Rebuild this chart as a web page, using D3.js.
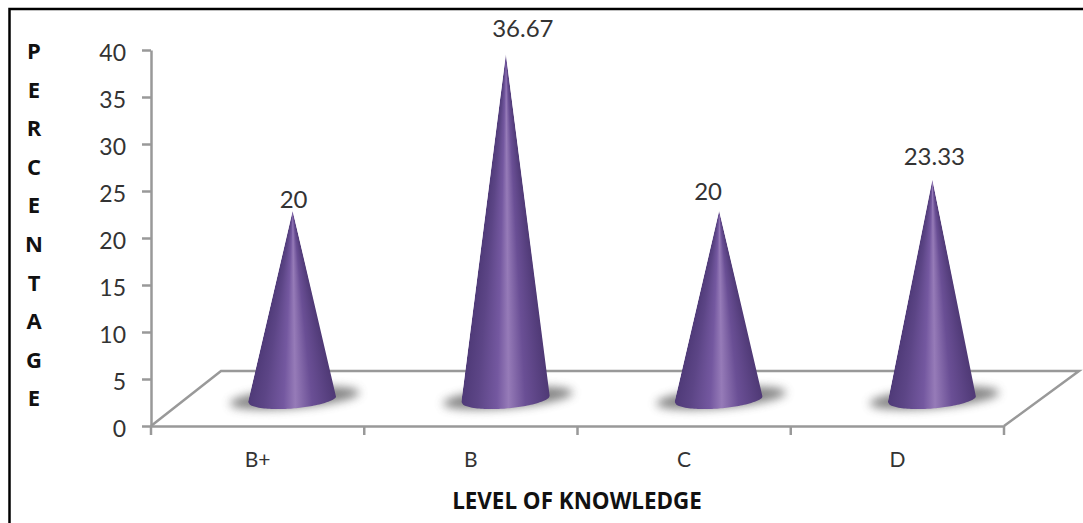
<!DOCTYPE html>
<html>
<head>
<meta charset="utf-8">
<script src="https://cdn.jsdelivr.net/npm/d3@7"></script>
<style>
  html, body { margin: 0; padding: 0; background: #fff; overflow: hidden; }
  text { font-family: Lato, sans-serif; }
</style>
</head>
<body>
<div id="chart"></div>
<script>
const categories = ['B+', 'B', 'C', 'D'];
const percentages = [20, 36.67, 20, 23.33];
const yTicks = [0, 5, 10, 15, 20, 25, 30, 35, 40];
const yTitle = 'PERCENTAGE';
const xTitle = 'LEVEL OF KNOWLEDGE';

const width = 1083, height = 523;
const depthX = 72, depthY = 55;     // fake 3d floor offset
const coneWidth = 89;
const axisColor = '#999';

const svg = d3.select('#chart').append('svg')
    .attr('width', width)
    .attr('height', height);

const defs = svg.append('defs');

defs.append('filter')
    .attr('id', 'blur')
    .attr('x', '-30%').attr('y', '-80%')
    .attr('width', '160%').attr('height', '260%')
    .append('feGaussianBlur')
    .attr('stdDeviation', 5);

const shade = defs.append('linearGradient').attr('id', 'shade');
[[0, '#4f3a78'], [0.18, '#5c4586'], [0.4, '#7458a0'], [0.53, '#967bb8'], [0.72, '#6a4f95'], [0.92, '#563f7e'], [1, '#4f3975']]
    .forEach(s => shade.append('stop').attr('offset', s[0]).attr('stop-color', s[1]));

const x = d3.scaleBand().domain(categories).range([151, 1004]);
const y = d3.scaleLinear().domain([0, 40]).range([426, 50]);

// picture frame, only top and left fall inside the image
svg.append('path')
    .attr('d', `M9.5,${height}V9H${width}`)
    .attr('fill', 'none')
    .attr('stroke', '#000')
    .attr('stroke-width', 2.5);

// floor
svg.append('path')
    .attr('d', `M${x.range()[0]},${y(0)}l${depthX - 2},${-depthY}H${x.range()[1] + depthX + 3}L${x.range()[1]},${y(0)}`)
    .attr('fill', 'none')
    .attr('stroke', axisColor)
    .attr('stroke-width', 2.5);

// axes
const yAxis = svg.append('g')
    .attr('transform', `translate(${x.range()[0]},0)`)
    .call(d3.axisLeft(y).tickValues(yTicks).tickSize(9).tickPadding(16).tickSizeOuter(0));

const xAxis = svg.append('g')
    .attr('transform', `translate(0,${y(0)})`)
    .call(d3.axisBottom(x).tickSize(0).tickPadding(26).tickSizeOuter(0));

xAxis.selectAll('.tick text').attr('font-size', 21);
yAxis.selectAll('.tick text').attr('font-size', 23).attr('dy', '0.46em');
[yAxis, xAxis].forEach(a => {
    a.selectAll('.domain, .tick line').attr('stroke', axisColor).attr('stroke-width', 2.5);
    a.selectAll('.tick text').attr('fill', '#333').style('font-family', 'Lato, sans-serif');
});

// x tick marks sit between the categories
xAxis.selectAll('.mark')
    .data(d3.range(categories.length + 1))
    .enter().append('line')
    .attr('class', 'mark')
    .attr('x1', i => x.range()[0] + i * x.step())
    .attr('x2', i => x.range()[0] + i * x.step())
    .attr('y1', 0)
    .attr('y2', 9)
    .attr('stroke', axisColor)
    .attr('stroke-width', 2.5);

const centre = d => x(d.cat) + x.bandwidth() / 2 + depthX / 2 - 1;

const cones = svg.selectAll('.cone')
    .data(categories.map((c, i) => ({ cat: c, value: percentages[i], i: i })))
    .enter().append('g')
    .attr('class', 'cone');

cones.append('ellipse')
    .attr('cx', d => centre(d) + 2)
    .attr('cy', y(0) - 28)
    .attr('rx', 65)
    .attr('ry', 10)
    .attr('transform', d => `rotate(-5,${centre(d) + 2},${y(0) - 28})`)
    .attr('fill', '#555')
    .attr('opacity', 0.72)
    .attr('filter', 'url(#blur)');

// cone silhouette: tip to a tilted elliptical base
cones.each(function(d) {
    const cx = centre(d);
    const tipY = y(d.value) - 27;
    const edgeY = y(0) - 24;
    const line = d3.line().curve(d3.curveLinear);
    const base = d3.range(0, 1.001, 0.02).map(t => {
        const u = 2 * t - 1;
        return [cx + u * coneWidth / 2, edgeY - 7 * t + 10 * Math.sqrt(Math.max(0, 1 - u * u))];
    });
    defs.append('clipPath').attr('id', `cone-${d.i}`)
        .append('path')
        .attr('d', line([[cx, tipY]].concat(base)) + 'Z');

    // one row per pixel so the shading narrows toward the tip
    const rows = d3.range(Math.floor(tipY), Math.ceil(edgeY) + 11);
    d3.select(this).append('g')
        .attr('clip-path', `url(#cone-${d.i})`)
        .selectAll('rect')
        .data(rows)
        .enter().append('rect')
        .attr('x', r => cx - coneWidth / 2 * Math.min(1, (r + 1 - tipY) / (edgeY - tipY)))
        .attr('width', r => coneWidth * Math.min(1, (r + 1 - tipY) / (edgeY - tipY)))
        .attr('y', r => r)
        .attr('height', 1)
        .attr('fill', 'url(#shade)');
});

// data labels were dragged by hand in the original
const labelNudge = [[1, -4], [17, -18], [-11, -12], [2, -16]];
svg.selectAll('.value')
    .data(percentages)
    .enter().append('text')
    .attr('class', 'value')
    .attr('x', (d, i) => centre({ cat: categories[i] }) + labelNudge[i][0])
    .attr('y', (d, i) => y(d) - 26 + labelNudge[i][1])
    .attr('text-anchor', 'middle')
    .attr('font-size', 24)
    .attr('fill', '#333')
    .text(d => d);

// vertical y title, one letter per line
svg.selectAll('.ylet')
    .data(yTitle.split(''))
    .enter().append('text')
    .attr('class', 'ylet')
    .attr('x', 34)
    .attr('y', (d, i) => 59 + i * 38.6)
    .attr('text-anchor', 'middle')
    .attr('font-size', 22)
    .attr('font-weight', 700)
    .attr('fill', '#111')
    .style('font-family', '"Open Sans", sans-serif')
    .text(d => d);

svg.append('text')
    .attr('x', 577)
    .attr('y', 509)
    .attr('text-anchor', 'middle')
    .attr('font-size', 22.4)
    .attr('font-weight', 700)
    .attr('fill', '#111')
    .style('font-family', '"Open Sans", sans-serif')
    .text(xTitle);
</script>
</body>
</html>
